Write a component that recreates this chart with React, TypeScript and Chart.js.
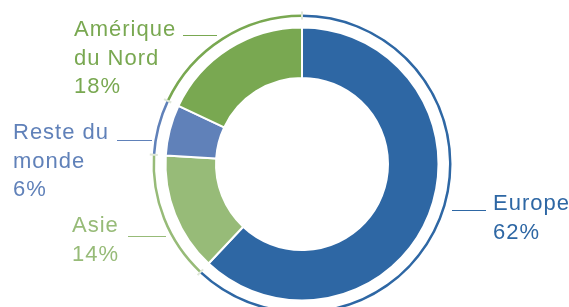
import React, { useEffect, useRef } from "react";
import { Chart, registerables } from "chart.js";

Chart.register(...registerables);

// ---- data ----
const categories = ["Europe", "Asie", "Reste du monde", "Amérique du Nord"];
const shares = [62, 14, 6, 18];
const percentLabels = ["62%", "14%", "6%", "18%"];
const labelLines = [["Europe"], ["Asie"], ["Reste du", "monde"], ["Amérique", "du Nord"]];

// ---- styles / layout ----
const colors = ["#2e67a4", "#97bb78", "#6081b9", "#79a851"];
const LABEL_LAYOUT = [
  { tx: 493, ty: 210, lx1: 452, lx2: 486, ly: 210.5 },
  { tx: 72, ty: 232, lx1: 128, lx2: 166, ly: 236.5 },
  { tx: 13, ty: 139, lx1: 117, lx2: 152, ly: 140.5 },
  { tx: 74, ty: 36, lx1: 183, lx2: 217, ly: 35.5 },
];
const LINE_HEIGHT = 28.5;
const OUTER_R = 149.5;
const INNER_R = 86;

const labelPlugin = {
  id: "labelPlugin",
  afterDraw(chart: any) {
    const ctx = chart.ctx as CanvasRenderingContext2D;
    // boundary ticks on the thin outer ring
    const meta = chart.getDatasetMeta(0);
    ctx.save();
    ctx.strokeStyle = "#dfe7d8";
    ctx.lineWidth = 2;
    meta.data.forEach((arc: any) => {
      const a = arc.startAngle;
      ctx.beginPath();
      ctx.moveTo(arc.x + Math.cos(a) * 144.5, arc.y + Math.sin(a) * 144.5);
      ctx.lineTo(arc.x + Math.cos(a) * 152.5, arc.y + Math.sin(a) * 152.5);
      ctx.stroke();
    });
    ctx.restore();

    ctx.save();
    ctx.font = '22px "Liberation Sans", Arial, sans-serif';
    (ctx as any).letterSpacing = "1px";
    ctx.textBaseline = "alphabetic";
    ctx.textAlign = "left";
    categories.forEach((_, i) => {
      const L = LABEL_LAYOUT[i];
      const lines = [...labelLines[i], percentLabels[i]];
      ctx.fillStyle = colors[i];
      lines.forEach((t, j) => ctx.fillText(t, L.tx, L.ty + j * LINE_HEIGHT));
      ctx.strokeStyle = colors[i];
      ctx.lineWidth = 1;
      ctx.beginPath();
      ctx.moveTo(L.lx1, L.ly);
      ctx.lineTo(L.lx2, L.ly);
      ctx.stroke();
    });
    ctx.restore();
  },
};

export default function App() {
  const ref = useRef<HTMLCanvasElement | null>(null);
  useEffect(() => {
    if (!ref.current) return;
    const chart = new Chart(ref.current, {
      type: "doughnut",
      data: {
        labels: categories,
        datasets: [
          {
            data: shares,
            backgroundColor: colors,
            borderWidth: 0,
            weight: 2.5,
          } as any,
          {
            data: shares,
            backgroundColor: "rgba(0,0,0,0)",
            borderWidth: 0,
            weight: 10.5,
          } as any,
          {
            data: shares,
            backgroundColor: colors,
            borderColor: "#ffffff",
            borderWidth: 2,
            weight: 50.5,
          } as any,
        ],
      },
      options: {
        responsive: false,
        animation: false,
        radius: OUTER_R,
        cutout: (INNER_R / OUTER_R) * 100 + "%",
        layout: { padding: { left: 35, right: 0, top: 0, bottom: 0 } },
        plugins: {
          legend: { display: false },
          tooltip: { enabled: false },
        },
      } as any,
      plugins: [labelPlugin],
    });
    return () => chart.destroy();
  }, []);
  return (
    <div
      style={{
        position: "fixed",
        left: 0,
        top: 0,
        width: 569,
        height: 307,
        overflow: "hidden",
        background: "#ffffff",
      }}
    >
      <canvas ref={ref} width={569} height={328} style={{ display: "block" }} />
    </div>
  );
}
